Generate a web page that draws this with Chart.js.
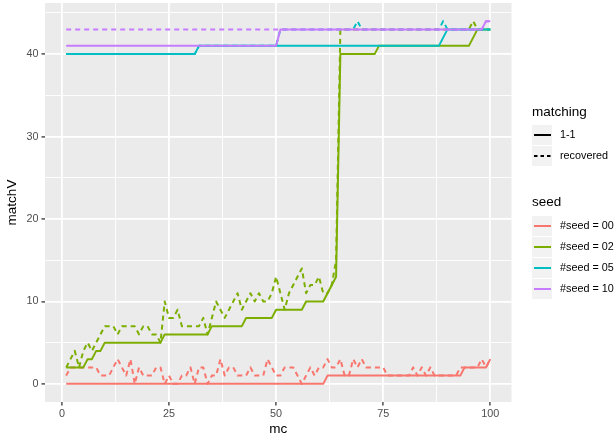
<!DOCTYPE html>
<html>
<head>
<meta charset="utf-8">
<script src="https://cdn.jsdelivr.net/npm/chart.js@4"></script>
<style>
  body { margin: 0; background: #ffffff; }
  canvas { display: block; }
</style>
</head>
<body>
<canvas id="matchChart" width="615" height="438"></canvas>
<script>
// x categories (mc)
const mc = [
  1, 2, 3, 4, 5, 6, 7, 8, 9, 10,
  11, 12, 13, 14, 15, 16, 17, 18, 19, 20,
  21, 22, 23, 24, 25, 26, 27, 28, 29, 30,
  31, 32, 33, 34, 35, 36, 37, 38, 39, 40,
  41, 42, 43, 44, 45, 46, 47, 48, 49, 50,
  51, 52, 53, 54, 55, 56, 57, 58, 59, 60,
  61, 62, 63, 64, 65, 66, 67, 68, 69, 70,
  71, 72, 73, 74, 75, 76, 77, 78, 79, 80,
  81, 82, 83, 84, 85, 86, 87, 88, 89, 90,
  91, 92, 93, 94, 95, 96, 97, 98, 99, 100
];

// matching = 1-1 (solid)
const seed00Solid = [
  0, 0, 0, 0, 0, 0, 0, 0, 0, 0,
  0, 0, 0, 0, 0, 0, 0, 0, 0, 0,
  0, 0, 0, 0, 0, 0, 0, 0, 0, 0,
  0, 0, 0, 0, 0, 0, 0, 0, 0, 0,
  0, 0, 0, 0, 0, 0, 0, 0, 0, 0,
  0, 0, 0, 0, 0, 0, 0, 0, 0, 0,
  0, 1, 1, 1, 1, 1, 1, 1, 1, 1,
  1, 1, 1, 1, 1, 1, 1, 1, 1, 1,
  1, 1, 1, 1, 1, 1, 1, 1, 1, 1,
  1, 1, 1, 2, 2, 2, 2, 2, 2, 3
];
const seed02Solid = [
  2, 2, 2, 2, 2, 3, 3, 4, 4, 5,
  5, 5, 5, 5, 5, 5, 5, 5, 5, 5,
  5, 5, 5, 6, 6, 6, 6, 6, 6, 6,
  6, 6, 6, 6, 7, 7, 7, 7, 7, 7,
  7, 7, 8, 8, 8, 8, 8, 8, 8, 9,
  9, 9, 9, 9, 9, 9, 10, 10, 10, 10,
  10, 11, 12, 13, 40, 40, 40, 40, 40, 40,
  40, 40, 40, 41, 41, 41, 41, 41, 41, 41,
  41, 41, 41, 41, 41, 41, 41, 41, 41, 41,
  41, 41, 41, 41, 41, 42, 43, 43, 43, 43
];
const seed05Solid = [
  40, 40, 40, 40, 40, 40, 40, 40, 40, 40,
  40, 40, 40, 40, 40, 40, 40, 40, 40, 40,
  40, 40, 40, 40, 40, 40, 40, 40, 40, 40,
  40, 41, 41, 41, 41, 41, 41, 41, 41, 41,
  41, 41, 41, 41, 41, 41, 41, 41, 41, 41,
  41, 41, 41, 41, 41, 41, 41, 41, 41, 41,
  41, 41, 41, 41, 41, 41, 41, 41, 41, 41,
  41, 41, 41, 41, 41, 41, 41, 41, 41, 41,
  41, 41, 41, 41, 41, 41, 41, 41, 42, 43,
  43, 43, 43, 43, 43, 43, 43, 43, 43, 43
];
const seed10Solid = [
  41, 41, 41, 41, 41, 41, 41, 41, 41, 41,
  41, 41, 41, 41, 41, 41, 41, 41, 41, 41,
  41, 41, 41, 41, 41, 41, 41, 41, 41, 41,
  41, 41, 41, 41, 41, 41, 41, 41, 41, 41,
  41, 41, 41, 41, 41, 41, 41, 41, 41, 41,
  43, 43, 43, 43, 43, 43, 43, 43, 43, 43,
  43, 43, 43, 43, 43, 43, 43, 43, 43, 43,
  43, 43, 43, 43, 43, 43, 43, 43, 43, 43,
  43, 43, 43, 43, 43, 43, 43, 43, 43, 43,
  43, 43, 43, 43, 43, 43, 43, 43, 44, 44
];

// matching = recovered (dashed)
const seed00Recovered = [
  1, 2, 2, 2, 2, 2, 2, 2, 1, 1,
  1, 2, 3, 2, 1, 3, 0, 2, 1, 1,
  1, 2, 2, 0, 1, 0, 0, 1, 1, 2,
  0, 2, 2, 0, 1, 1, 3, 1, 2, 2,
  1, 1, 1, 2, 1, 1, 1, 3, 2, 1,
  1, 2, 2, 2, 1, 0, 1, 2, 1, 2,
  2, 3, 2, 2, 3, 1, 1, 3, 2, 3,
  2, 2, 2, 2, 2, 1, 1, 1, 1, 1,
  1, 2, 1, 2, 1, 2, 1, 1, 1, 1,
  1, 1, 2, 2, 2, 2, 2, 3, 2, 3
];
const seed02Recovered = [
  2, 3, 4, 2, 4, 5, 4, 5, 6, 7,
  7, 7, 6, 7, 7, 7, 7, 6, 7, 7,
  6, 6, 5, 10, 8, 8, 9, 7, 7, 7,
  7, 7, 8, 6, 8, 10, 9, 8, 9, 10,
  11, 9, 10, 11, 10, 11, 10, 10, 11, 13,
  11, 9, 11, 12, 13, 14, 11, 12, 12, 13,
  11, 11, 12, 15, 43, 43, 43, 43, 43, 43,
  43, 43, 43, 43, 43, 43, 43, 43, 43, 43,
  43, 43, 43, 43, 43, 43, 43, 43, 43, 43,
  43, 43, 43, 43, 43, 44, 43, 43, 43, 43
];
// hidden under the seed 05 / seed 10 lines except the blips at mc 69 and 89
const seed05Recovered = [
  40, 40, 40, 40, 40, 40, 40, 40, 40, 40,
  40, 40, 40, 40, 40, 40, 40, 40, 40, 40,
  40, 40, 40, 40, 40, 40, 40, 40, 40, 40,
  40, 41, 41, 41, 41, 41, 41, 41, 41, 41,
  41, 41, 41, 41, 41, 41, 41, 41, 41, 41,
  43, 43, 43, 43, 43, 43, 43, 43, 43, 43,
  43, 43, 43, 43, 43, 43, 43, 43, 44, 43,
  43, 43, 43, 43, 43, 43, 43, 43, 43, 43,
  43, 43, 43, 43, 43, 43, 43, 43, 44, 43,
  43, 43, 43, 43, 43, 43, 43, 43, 43, 43
];
const seed10Recovered = [
  43, 43, 43, 43, 43, 43, 43, 43, 43, 43,
  43, 43, 43, 43, 43, 43, 43, 43, 43, 43,
  43, 43, 43, 43, 43, 43, 43, 43, 43, 43,
  43, 43, 43, 43, 43, 43, 43, 43, 43, 43,
  43, 43, 43, 43, 43, 43, 43, 43, 43, 43,
  43, 43, 43, 43, 43, 43, 43, 43, 43, 43,
  43, 43, 43, 43, 43, 43, 43, 43, 43, 43,
  43, 43, 43, 43, 43, 43, 43, 43, 43, 43,
  43, 43, 43, 43, 43, 43, 43, 43, 43, 43,
  43, 43, 43, 43, 43, 43, 43, 43, 44, 44
];

const seedLabels = ['#seed = 00', '#seed = 02', '#seed = 05', '#seed = 10'];
const seedColors = ['#F8766D', '#7CAE00', '#00BFC4', '#C77CFF'];
const matchingLabels = ['1-1', 'recovered'];

// tick positions (major + minor grid)
const xTicks = [0, 12.5, 25, 37.5, 50, 62.5, 75, 87.5, 100];
const yTicks = [0, 5, 10, 15, 20, 25, 30, 35, 40, 45];

const solidSeries = [seed00Solid, seed02Solid, seed05Solid, seed10Solid];
const recoveredSeries = [seed00Recovered, seed02Recovered, seed05Recovered, seed10Recovered];

const FONT = '"Liberation Sans", Arial, Helvetica, sans-serif';
const DASH = [5, 4];

// dataset 0 ends up on top in Chart.js, so the last seed goes first
const datasets = [];
for (let i = seedLabels.length - 1; i >= 0; i--) {
    [recoveredSeries[i], solidSeries[i]].forEach((vals, j) => {
        const dashed = j === 0;
        datasets.push({
            label: seedLabels[i] + ' ' + (dashed ? matchingLabels[1] : matchingLabels[0]),
            data: vals.map((v, k) => ({ x: mc[k], y: v })),
            borderColor: seedColors[i],
            borderWidth: 2,
            borderDash: dashed ? DASH : [],
            borderCapStyle: 'butt',
            borderJoinStyle: 'round',
            pointRadius: 0,
            fill: false,
            tension: 0
        });
    });
}

// Grey panel background
const panelBg = {
    id: 'panelBg',
    beforeDraw(chart) {
        const { ctx, chartArea: a } = chart;
        ctx.save();
        ctx.fillStyle = '#EBEBEB';
        ctx.fillRect(a.left, a.top, a.right - a.left, a.bottom - a.top);
        ctx.restore();
    }
};

// ggplot-style legend on the right
function drawKey(ctx, cy, color, dash) {
    ctx.fillStyle = '#F2F2F2';
    ctx.fillRect(532, cy - 10, 20, 20);
    ctx.strokeStyle = color;
    ctx.lineWidth = 2;
    ctx.setLineDash(dash);
    ctx.beginPath();
    ctx.moveTo(534, cy);
    ctx.lineTo(551, cy);
    ctx.stroke();
    ctx.setLineDash([]);
}

const ggLegend = {
    id: 'ggLegend',
    afterDraw(chart) {
        const ctx = chart.ctx;
        ctx.save();
        ctx.textBaseline = 'middle';
        ctx.textAlign = 'left';

        ctx.fillStyle = '#000000';
        ctx.font = '13.5px ' + FONT;
        ctx.fillText('matching', 532, 112);
        matchingLabels.forEach((lab, i) => {
            const cy = 135 + i * 21;
            drawKey(ctx, cy, '#000000', i === 1 ? [3.5, 3] : []);
            ctx.fillStyle = '#000000';
            ctx.font = '10.8px ' + FONT;
            ctx.fillText(lab, 560, cy);
        });

        ctx.fillStyle = '#000000';
        ctx.font = '13.5px ' + FONT;
        ctx.fillText('seed', 532, 202);
        seedLabels.forEach((lab, i) => {
            const cy = 226 + i * 21;
            drawKey(ctx, cy, seedColors[i], []);
            ctx.fillStyle = '#000000';
            ctx.font = '10.8px ' + FONT;
            ctx.fillText(lab, 560, cy);
        });
        ctx.restore();
    }
};

function gridOpts(step) {
    return {
        color: '#FFFFFF',
        lineWidth: c => (c.tick && c.tick.value % step === 0) ? 1.8 : 0.9,
        tickColor: c => (c.tick && c.tick.value % step === 0) ? '#333333' : 'rgba(0,0,0,0)',
        tickWidth: 1.3,
        tickLength: 3.5,
        drawTicks: true
    };
}

const ctx = document.getElementById('matchChart').getContext('2d');

const chart = new Chart(ctx, {
    type: 'line',
    data: { datasets: datasets },
    options: {
        responsive: false,
        animation: false,
        events: [],
        layout: {
            padding: { top: 3, right: 103.5, bottom: 0, left: 0 }
        },
        plugins: {
            legend: { display: false },
            tooltip: { enabled: false }
        },
        scales: {
            x: {
                type: 'linear',
                min: -3.95,
                max: 104.95,
                border: { display: false },
                grid: gridOpts(25),
                afterBuildTicks: axis => { axis.ticks = xTicks.map(v => ({ value: v })); },
                afterFit: scale => {
                    scale.height = 36;
                    scale.paddingLeft = 0;
                    scale.paddingRight = 0;
                },
                ticks: {
                    autoSkip: false,
                    maxRotation: 0,
                    padding: 2,
                    color: '#4D4D4D',
                    font: { family: FONT, size: 10.8 },
                    callback: v => (v % 25 === 0 ? String(v) : '')
                },
                title: {
                    display: true,
                    text: 'mc',
                    color: '#000000',
                    font: { family: FONT, size: 13.5 },
                    padding: { top: 0, bottom: 1 }
                }
            },
            y: {
                type: 'linear',
                min: -2.2,
                max: 46.2,
                border: { display: false },
                grid: gridOpts(10),
                afterBuildTicks: axis => { axis.ticks = yTicks.map(v => ({ value: v })); },
                afterFit: scale => {
                    scale.width = 45;
                    scale.paddingTop = 0;
                    scale.paddingBottom = 0;
                },
                ticks: {
                    autoSkip: false,
                    padding: 3,
                    color: '#4D4D4D',
                    font: { family: FONT, size: 10.8 },
                    callback: v => (v % 10 === 0 ? String(v) : '')
                },
                title: {
                    display: true,
                    text: 'matchV',
                    color: '#000000',
                    font: { family: FONT, size: 13.5 },
                    padding: { top: 4, bottom: 0 }
                }
            }
        }
    },
    plugins: [panelBg, ggLegend]
});
</script>
</body>
</html>
